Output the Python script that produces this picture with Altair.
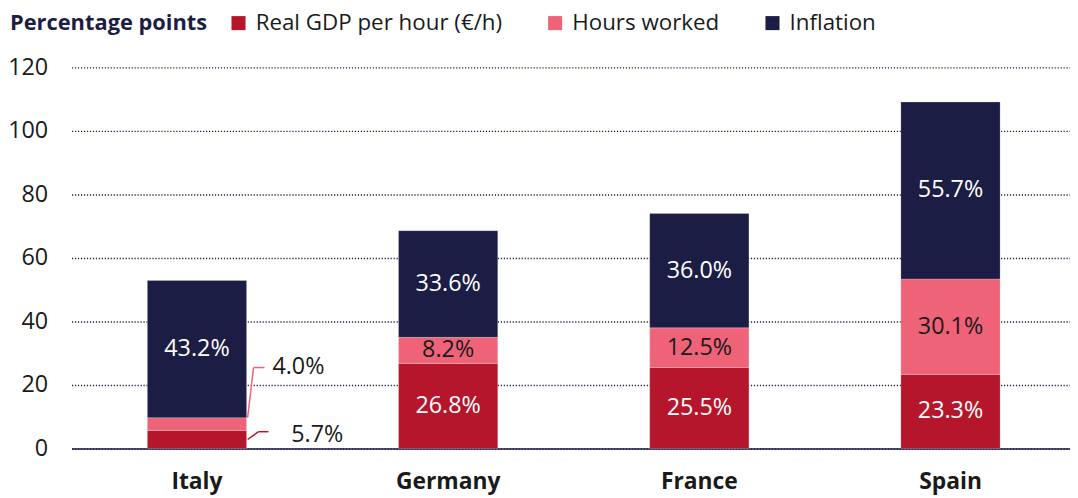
import altair as alt
import pandas as pd

countries = ["Italy", "Germany", "France", "Spain"]
series = ["Real GDP per hour (€/h)", "Hours worked", "Inflation"]
real_gdp = [5.7, 26.8, 25.5, 23.3]
hours_worked = [4.0, 8.2, 12.5, 30.1]
inflation = [43.2, 33.6, 36.0, 55.7]
colors = ["#B5162B", "#EE6377", "#1B1D45"]
label_colors = ["#FFFFFF", "#1A1A1A", "#FFFFFF"]
y_ticks = [0, 20, 40, 60, 80, 100, 120]
callout_country = "Italy"
callout_level = {"Hours worked": 25.5, "Real GDP per hour (€/h)": 5.3}

NAVY = "#1B1D45"
FONT = "Open Sans"
FS = 23.5

rows = []
for i, c in enumerate(countries):
    base = 0.0
    for j, (s, vals) in enumerate(zip(series, [real_gdp, hours_worked, inflation])):
        v = vals[i]
        rows.append(dict(country=c, series=s, order=j, value=v, lo=base, hi=base + v,
                         mid=base + v / 2, label=f"{v:.1f}%", tcolor=label_colors[j],
                         inside=not (c == callout_country and s in callout_level)))
        base += v
df = pd.DataFrame(rows)

xscale = alt.Scale(domain=countries, paddingInner=0.605, paddingOuter=0.302, range=[0, 1012])
yscale = alt.Scale(domain=[0, 120], nice=False)

x_enc = alt.X("country:N", scale=xscale, sort=countries,
              axis=alt.Axis(title=None, labelAngle=0, labelFontWeight="bold", labelFontSize=23,
                            labelFont=FONT, labelColor="#1A1A1A", domainColor=NAVY, domainWidth=1.5,
                            ticks=False, labelPadding=22, grid=False))

bars = alt.Chart(df).mark_bar(stroke="#FFFFFF", strokeWidth=0.4, strokeOpacity=0.5).encode(
    x=x_enc,
    y=alt.Y("lo:Q", scale=yscale,
            axis=alt.Axis(title=None, values=y_ticks, grid=True, gridDash=[1.2, 1.8], gridColor=NAVY,
                          gridWidth=1.4, domain=False, ticks=False, labelPadding=24, labelFontSize=FS,
                          labelFont=FONT, labelColor="#1A1A1A")),
    y2="hi:Q",
    color=alt.Color("series:N", scale=alt.Scale(domain=series, range=colors),
                    legend=alt.Legend(title="Percentage points", orient="none", legendX=-62, legendY=-56,
                                      direction="horizontal", titleOrient="left", titleFontSize=22,
                                      titleFontWeight="bold", titleColor=NAVY, titleFont=FONT,
                                      titleLimit=400,
                                      labelFont=FONT, labelFontSize=22.5, labelColor="#1A1A1A",
                                      symbolType="square", symbolSize=200, symbolStrokeWidth=0,
                                      columnPadding=42, titlePadding=20, labelOffset=6, labelLimit=500,
                                      titleBaseline="middle", titleAnchor="middle")),
)

texts = alt.Chart(df).transform_filter("datum.inside").mark_text(
    fontSize=FS, font=FONT, baseline="middle", align="center").encode(
    x=alt.X("country:N", scale=xscale, sort=countries),
    y=alt.Y("mid:Q", scale=yscale),
    text="label:N",
    color=alt.Color("tcolor:N", scale=None, legend=None),
)

it = df[df.country == callout_country].set_index("series")
pink_s = "Hours worked"
red_s = "Real GDP per hour (€/h)"
pink = it.loc[pink_s]
red = it.loc[red_s]


def seg(y0, y1, off0, off1, color):
    d = pd.DataFrame({"country": [callout_country], "y0": [y0], "y1": [y1]})
    return alt.Chart(d).mark_rule(color=color, strokeWidth=1.5, xOffset=off0, x2Offset=off1).encode(
        x=alt.X("country:N", scale=xscale, sort=countries),
        x2="country:N",
        y=alt.Y("y0:Q", scale=yscale),
        y2="y1:Q",
    )


def call_text(y, label, dx, dy):
    d = pd.DataFrame({"country": [callout_country], "y": [y], "label": [label]})
    return alt.Chart(d).mark_text(fontSize=FS, font=FONT, align="left", baseline="middle",
                                  dx=dx, dy=dy, color="#1A1A1A").encode(
        x=alt.X("country:N", scale=xscale, sort=countries),
        y=alt.Y("y:Q", scale=yscale),
        text="label:N",
    )


pl = callout_level[pink_s]
rl = callout_level[red_s]
callouts = [
    seg(pink.hi, pl, 51, 57, colors[1]),
    seg(pl, pl, 57, 68, colors[1]),
    seg(red.mid, rl, 51, 62, colors[0]),
    seg(rl, rl, 62, 72, colors[0]),
    call_text(pl, pink.label, 76, 0),
    call_text(rl, red.label, 95, 3),
]

chart = alt.layer(bars, texts, *callouts).resolve_scale(color="independent").properties(
    width=1006, height=384,
    autosize=alt.AutoSizeParams(type="none"),
    padding={"left": 64, "top": 58, "right": 0, "bottom": 50},
).configure_view(stroke=None)

chart.save("out.html", embed_options={"renderer": "svg", "actions": False})
